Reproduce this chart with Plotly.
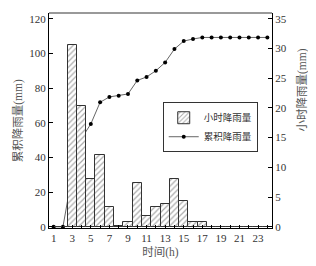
import plotly.graph_objects as go

hours = list(range(1, 25))
hourly_rain = [0, 0, 30.5, 20.4, 8.0, 12.1, 3.4, 0.2, 0.8, 7.4, 1.8, 3.4,
               3.8, 8.0, 4.4, 0.8, 0.8, 0, 0, 0, 0, 0, 0, 0]
cumulative_rain = [0, 0, 30.1, 51.0, 59.3, 71.8, 74.9, 75.6, 76.6, 84.4, 86.4, 90.0,
                   94.8, 102.5, 107.1, 108.3, 109.2, 109.2, 109.2, 109.2, 109.2, 109.2, 109.2, 109.2]
x_ticks = list(range(1, 24, 2))
left_ticks = [0, 20, 40, 60, 80, 100, 120]
right_ticks = [0, 5, 10, 15, 20, 25, 30, 35]

NUM_FONT = "Liberation Serif, Noto Sans CJK SC"
TXT = "#333333"
TITLE = "#555555"

fig = go.Figure()
fig.add_trace(go.Bar(
    x=hours, y=hourly_rain, name="小时降雨量", yaxis="y2", width=1.0,
    marker=dict(color="white",
                line=dict(color="#333333", width=1),
                pattern=dict(shape="/", fgcolor="#555555", bgcolor="white", size=4, solidity=0.3)),
))
fig.add_trace(go.Scatter(
    x=hours, y=cumulative_rain, name="累积降雨量", mode="lines+markers",
    line=dict(color="#666666", width=1),
    marker=dict(color="black", size=4, symbol="circle"),
))

fig.update_layout(
    width=308, height=258,
    margin=dict(l=41, r=44, t=5, b=38),
    paper_bgcolor="white", plot_bgcolor="white",
    font=dict(family=NUM_FONT, size=11, color=TXT),
    showlegend=True,
    legend=dict(x=0.51, y=0.585, xanchor="left", yanchor="top",
                bordercolor="#333333", borderwidth=1, bgcolor="white",
                font=dict(size=9.5, family=NUM_FONT, color=TXT),
                itemwidth=30, tracegroupgap=0, traceorder="normal"),
    xaxis=dict(range=[0.5, 24.5], tickvals=x_ticks, ticktext=[str(v) for v in x_ticks],
               showline=True, linecolor="black", linewidth=1, ticks="inside", ticklen=3,
               tickcolor="black", showgrid=False, zeroline=False,
               minor=dict(dtick=1, tick0=0, ticks="inside", ticklen=3, tickcolor="black"),
               title=dict(text="时间(h)", font=dict(size=11.5, family=NUM_FONT, color=TITLE), standoff=4),
               tickfont=dict(size=11, family=NUM_FONT, color=TXT)),
    yaxis=dict(range=[-0.7, 123.3], tickvals=left_ticks, showline=True, linecolor="black", linewidth=1,
               ticks="inside", ticklen=4, tickcolor="black", showgrid=False, zeroline=False,
               tickfont=dict(size=11, family=NUM_FONT, color=TXT)),
    yaxis2=dict(range=[-0.2, 35.96], tickvals=right_ticks, overlaying="y", side="right",
                showline=True, linecolor="black", linewidth=1, ticks="inside", ticklen=4,
                tickcolor="black", showgrid=False, zeroline=False,
                tickfont=dict(size=11, family=NUM_FONT, color=TXT)),
    shapes=[dict(type="line", xref="paper", yref="paper", x0=0, x1=1, y0=1, y1=1,
                 line=dict(color="#999999", width=2))],
    annotations=[
        dict(text="累积降雨量(mm)", xref="paper", yref="paper", x=-0.14, y=0.50,
             xanchor="center", yanchor="middle",
             textangle=-90, showarrow=False, font=dict(size=11.5, family=NUM_FONT, color=TITLE)),
        dict(text="小时降雨量(mm)", xref="paper", yref="paper", x=1.135, y=0.64,
             xanchor="center", yanchor="middle",
             textangle=-90, showarrow=False, font=dict(size=11.5, family=NUM_FONT, color=TITLE)),
    ],
    bargap=0,
)

fig.write_html("out.html")
